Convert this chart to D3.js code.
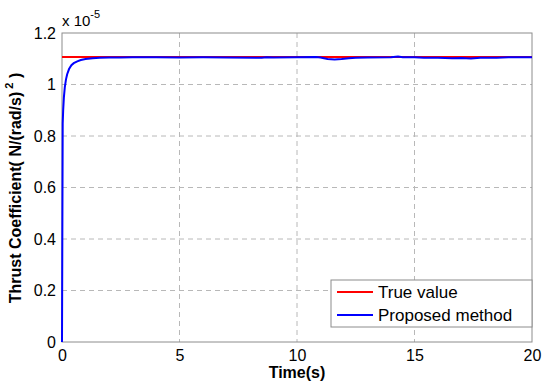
<!DOCTYPE html>
<html>
<head>
<meta charset="utf-8">
<script src="https://cdn.jsdelivr.net/npm/d3@7"></script>
<style>
  body { margin: 0; background: #fff; }
  text { font-family: "Liberation Sans", Arial, sans-serif; }
</style>
</head>
<body>
<svg id="chart" width="550" height="388"></svg>
<script>
// values in units of 1e-5
var trueT = [0, 20];
var trueV = [1.107, 1.107];

var estT = [0, 0.03, 0.05, 0.08, 0.12, 0.17, 0.22, 0.3, 0.4, 0.5, 0.65, 0.8, 1.0, 1.3, 1.6, 2.0, 2.5, 3.0,
            4.0, 5.0, 6.0, 7.0, 8.5, 8.7, 9.0, 10.0, 10.8, 11.0, 11.3, 11.6, 11.9, 12.2, 12.5, 13.0,
            14.0, 14.3, 14.5, 15.0, 15.4, 16.0, 16.6, 17.0, 17.4, 17.8, 18.5, 19.0, 20];
var estV = [0, 0.85, 0.90, 0.95, 0.99, 1.02, 1.04, 1.06, 1.075, 1.083, 1.09, 1.095, 1.099, 1.102, 1.104, 1.105, 1.105, 1.106,
            1.106, 1.105, 1.106, 1.105, 1.104, 1.106, 1.105, 1.106, 1.107, 1.105, 1.099, 1.097, 1.099, 1.102, 1.104, 1.105,
            1.106, 1.109, 1.106, 1.106, 1.104, 1.104, 1.102, 1.103, 1.101, 1.104, 1.104, 1.106, 1.106];

var xTicks = [0, 5, 10, 15, 20];
var yTicks = [0, 0.2, 0.4, 0.6, 0.8, 1, 1.2];

var svg = d3.select("#chart");
var margin = {left: 62, right: 18, top: 33, bottom: 46};
var width = 550 - margin.left - margin.right,
    height = 388 - margin.top - margin.bottom;

var x = d3.scaleLinear().domain([0, 20]).range([0, width]);
var y = d3.scaleLinear().domain([0, 1.2]).range([height, 0]);

var g = svg.append("g").attr("transform", "translate(" + margin.left + "," + margin.top + ")");

// grid
g.append("g").selectAll("line").data(xTicks.slice(1, -1)).enter().append("line")
    .attr("x1", d => x(d)).attr("x2", d => x(d))
    .attr("y1", 0).attr("y2", height)
    .attr("stroke", "#b8b8b8").attr("stroke-dasharray", "5,4");
g.append("g").selectAll("line").data(yTicks.slice(1, -1)).enter().append("line")
    .attr("y1", d => y(d)).attr("y2", d => y(d))
    .attr("x1", 0).attr("x2", width)
    .attr("stroke", "#b8b8b8").attr("stroke-dasharray", "5,4");

// axes
var xAxis = g.append("g").attr("transform", "translate(0," + height + ")")
    .call(d3.axisBottom(x).tickValues(xTicks).tickSize(0).tickPadding(5).tickFormat(d3.format("d")));
var yAxis = g.append("g")
    .call(d3.axisLeft(y).tickValues(yTicks).tickSize(0).tickPadding(6).tickFormat(d => d === 0 || d === 1 ? d : d3.format(".1f")(d)));
[xAxis, yAxis].forEach(function(a) {
    a.select(".domain").remove();
    a.selectAll("text").attr("font-size", 16).attr("fill", "#000")
        .style("font-family", "'Liberation Sans', Arial, sans-serif");
});
xAxis.selectAll("text").attr("dy", "0.85em");

// box
g.append("rect").attr("x", 0).attr("y", 0).attr("width", width).attr("height", height)
    .attr("fill", "none").attr("stroke", "#8c8c8c").attr("stroke-width", 1);

// lines
var line = d3.line().x(d => x(d[0])).y(d => y(d[1]));
g.append("path").datum(d3.zip(trueT, trueV)).attr("d", line)
    .attr("fill", "none").attr("stroke", "#ff0000").attr("stroke-width", 2);
g.append("path").datum(d3.zip(estT, estV)).attr("d", line)
    .attr("fill", "none").attr("stroke", "#0000ff").attr("stroke-width", 2);

// exponent label
var ex = svg.append("text").attr("x", 62).attr("y", 26).attr("font-size", 15);
ex.append("tspan").text("x 10");
ex.append("tspan").attr("font-size", 11).attr("dy", -8).text("-5");

// axis titles
svg.append("text").attr("x", margin.left + width / 2).attr("y", 378)
    .attr("text-anchor", "middle").attr("font-size", 16).attr("font-weight", "bold").text("Time(s)");
var yl = svg.append("text").attr("transform", "translate(21," + 188 + ") rotate(-90)")
    .attr("text-anchor", "middle").attr("font-size", 16).attr("font-weight", "bold");
yl.append("tspan").text("Thrust Coefficient( N/(rad/s)");
yl.append("tspan").attr("font-size", 11).attr("dy", -8).text(" 2");
yl.append("tspan").attr("dy", 8).text(" )");

// legend
var lg = svg.append("g").attr("transform", "translate(331,280)");
lg.append("rect").attr("width", 201).attr("height", 47)
    .attr("fill", "#fff").attr("stroke", "#8c8c8c");
var items = [["True value", "#ff0000"], ["Proposed method", "#0000ff"]];
items.forEach(function(it, i) {
    var yy = 12 + i * 23;
    lg.append("line").attr("x1", 6).attr("x2", 42).attr("y1", yy).attr("y2", yy)
        .attr("stroke", it[1]).attr("stroke-width", 2);
    lg.append("text").attr("x", 47).attr("y", yy + 6).attr("font-size", 17).text(it[0]);
});
</script>
</body>
</html>
